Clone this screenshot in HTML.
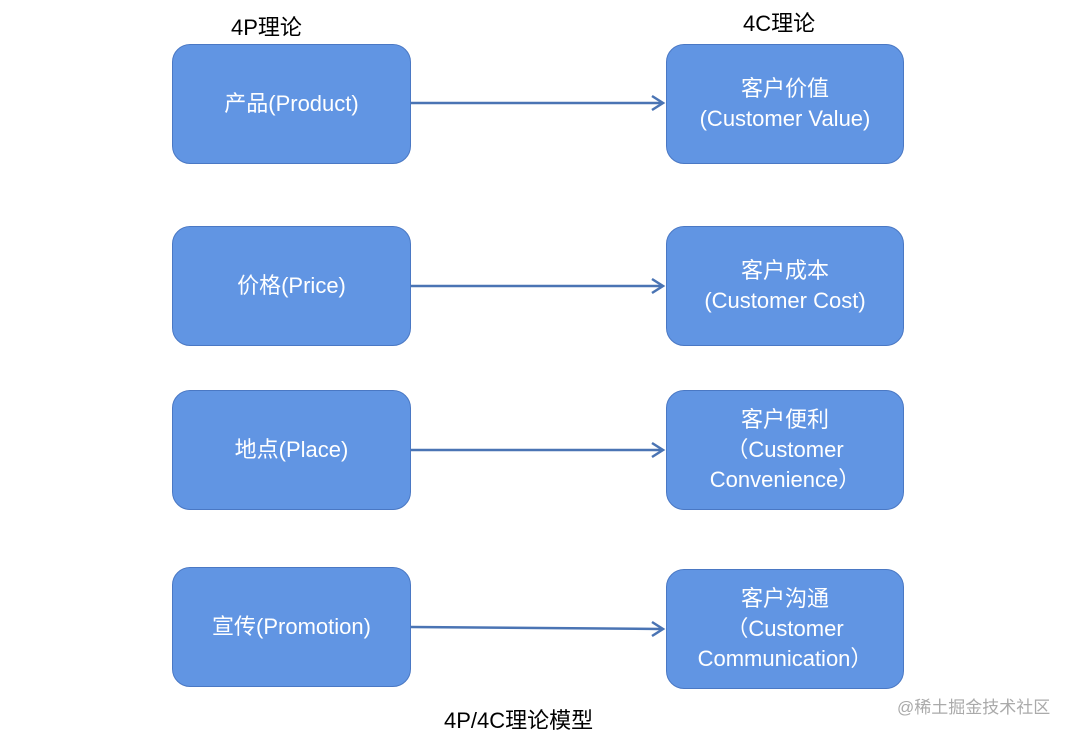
<!DOCTYPE html>
<html><head><meta charset="utf-8"><style>
body{margin:0;width:1080px;height:735px;background:#fff;position:relative;overflow:hidden;font-family:"Liberation Sans","Noto Sans CJK SC",sans-serif}
.b{position:absolute;background:#6195e3;border:1.5px solid #4a78c4;border-radius:18px;box-sizing:border-box;color:#fff;font-size:22px;display:flex;flex-direction:column;justify-content:center;align-items:center;line-height:30px;text-align:center}
.t{position:absolute;font-size:22px;color:#000}
</style></head><body>
<div class="t" style="left:231px;top:10px">4P理论</div>
<div class="t" style="left:743px;top:6px">4C理论</div>
<div class="b" style="left:172px;top:44px;width:239px;height:120px">产品(Product)</div>
<div class="b" style="left:666px;top:44px;width:238px;height:120px">客户价值<br>(Customer Value)</div>
<div class="b" style="left:172px;top:226px;width:239px;height:120px">价格(Price)</div>
<div class="b" style="left:666px;top:226px;width:238px;height:120px">客户成本<br>(Customer Cost)</div>
<div class="b" style="left:172px;top:390px;width:239px;height:120px">地点(Place)</div>
<div class="b" style="left:666px;top:390px;width:238px;height:120px">客户便利<br>（Customer<br>Convenience）</div>
<div class="b" style="left:172px;top:567px;width:239px;height:120px">宣传(Promotion)</div>
<div class="b" style="left:666px;top:569px;width:238px;height:120px">客户沟通<br>（Customer<br>Communication）</div>
<svg style="position:absolute;left:0;top:0" width="1080" height="735">
<g stroke="#4a74b4" stroke-width="2.5" fill="none">
<line x1="411" y1="103" x2="662" y2="103"/><polyline points="652,96 663,103 652,110"/>
<line x1="411" y1="286" x2="662" y2="286"/><polyline points="652,279 663,286 652,293"/>
<line x1="411" y1="450" x2="662" y2="450"/><polyline points="652,443 663,450 652,457"/>
<line x1="411" y1="627" x2="662" y2="629"/><polyline points="652,622 663,629 652,636"/>
</g></svg>
<div class="t" style="left:444px;top:703px">4P/4C理论模型</div>
<div class="t" style="left:897px;top:693px;font-size:17px;color:#aaa">@稀土掘金技术社区</div>
</body></html>
